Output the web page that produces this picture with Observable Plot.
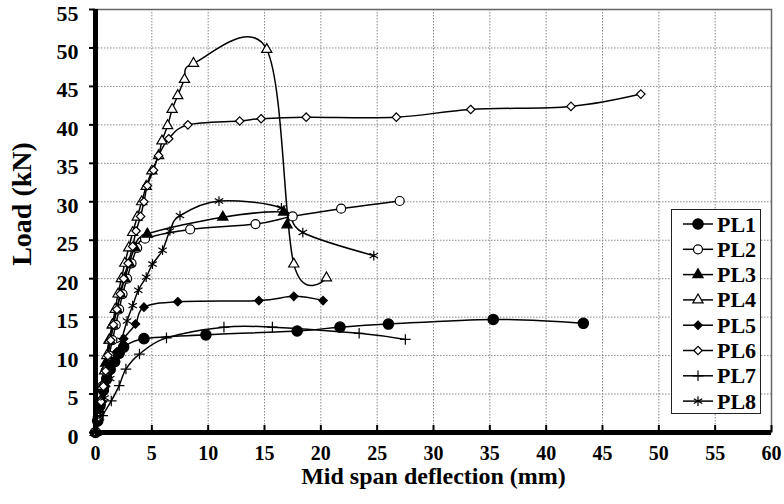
<!DOCTYPE html>
<html><head><meta charset="utf-8">
<script src="https://cdn.jsdelivr.net/npm/d3@7"></script>
<script src="https://cdn.jsdelivr.net/npm/@observablehq/plot@0.6"></script>
<style>
body{margin:0;background:#fff;}
#wrap{position:relative;width:784px;height:504px;overflow:hidden;}
#legend{position:absolute;left:671px;top:209px;width:90px;height:205px;border:1.5px solid #222;background:#fff;box-sizing:border-box;}
</style></head><body><div id="wrap"><div id="legend"></div></div>
<script>
const seriesNames = ["PL1","PL2","PL3","PL4","PL5","PL6","PL7","PL8"];
const xTicks = [0,5,10,15,20,25,30,35,40,45,50,55,60];
const yTicks = [0,5,10,15,20,25,30,35,40,45,50,55];
const xLabel = "Mid span deflection (mm)";
const yLabel = "Load (kN)";

const pl1 = [[0,0],[0.2,1.5],[0.4,3.5],[0.7,5.5],[1.0,7.0],[1.3,8.2],[1.7,9.2],[2.1,10.3],[2.5,11.1],[4.3,12.2],[9.8,12.7],[17.9,13.2],[21.7,13.7],[26.0,14.1],[35.3,14.7],[43.3,14.2]];
const pl2 = [[0,0],[0.2,2],[0.4,4],[0.6,6],[0.9,8],[1.2,10],[1.5,12],[1.8,14],[2.1,16],[2.4,18],[2.8,20],[3.2,22],[3.7,24],[4.4,25.2],[8.4,26.4],[14.2,27.1],[17.5,28.1],[21.8,29.1],[27.0,30.1]];
const pl3 = [[0,0],[0.3,3],[0.6,6],[0.9,9],[1.2,12],[1.5,14],[1.9,16],[2.2,18],[2.6,20],[3.0,22],[3.5,24],[4.6,25.8],[11.3,28.0],[16.7,28.65],[17.0,27.0]];
const pl4 = [[0,0],[0.2,2],[0.4,4],[0.6,6],[0.8,8],[1.0,10],[1.25,12],[1.5,14],[1.75,16],[2.0,18],[2.3,20],[2.6,22],[2.95,24],[3.3,26],[3.7,28],[4.1,30],[4.5,32],[5.0,34],[5.6,36],[5.9,37.9],[6.4,39.9],[6.8,42],[7.3,43.8],[7.9,45.9],[8.7,48],[15.2,49.8],[17.6,21.9],[20.5,20.1]];
const pl5 = [[0,0],[0.3,2],[0.6,4],[0.9,6],[1.3,8.5],[1.9,10.5],[2.5,12.2],[3.55,14.1],[4.3,16.3],[7.3,17.0],[14.5,17.15],[17.6,17.7],[20.2,17.15]];
const pl6 = [[0,0],[0.3,2],[0.5,4],[0.7,6],[0.9,8],[1.1,10],[1.35,12],[1.6,14],[1.9,16],[2.2,18],[2.5,20],[2.9,22],[3.3,24.2],[3.6,26.2],[4.0,28.1],[4.3,30],[4.6,32.1],[5.15,34.1],[5.6,36],[6.5,38.2],[8.2,40],[12.8,40.5],[14.7,40.8],[18.7,41],[26.7,41],[33.3,42],[42.2,42.4],[48.4,44]];
const pl7 = [[0,0],[0.64,2.2],[1.4,4.1],[2.1,6.1],[2.7,8.25],[3.9,10.2],[6.3,12.3],[11.4,13.7],[15.7,13.7],[23.4,12.9],[27.5,12.1]];
const pl8 = [[0,0],[0.4,2],[0.8,4.5],[1.3,7],[1.8,9.5],[2.3,12],[2.8,14.5],[3.3,16.5],[3.8,18.5],[4.5,20.2],[5.06,21.9],[5.95,23.7],[6.6,26.2],[7.5,28.2],[10.96,30.1],[16.5,29.2],[18.4,26.0],[24.7,23.0]];

const seriesData = [pl1,pl2,pl3,pl4,pl5,pl6,pl7,pl8];
const symbols = ["circle","circle","triangle","triangle","diamond2","diamond2","plus","asterisk"];
const fills = ["black","white","black","white","black","white","none","none"];
const radii = [5.2,4.5,3.8,3.8,3.8,3.8,3.5,4.6];

const rows = seriesNames.flatMap((n,i)=>seriesData[i].map(([x,y])=>({series:n,x,y})));
const font = '"Liberation Serif", "Times New Roman", serif';

const chart = Plot.plot({
  width:784, height:504,
  marginLeft:95, marginRight:13, marginTop:9, marginBottom:72,
  x:{domain:[0,60]},
  y:{domain:[0,55]},
  style:{fontFamily:font, background:"white", color:"black"},
  marks:[
    Plot.gridX(xTicks,{stroke:"#888", strokeOpacity:1, strokeDasharray:"1.5,1.5"}),
    Plot.gridY(yTicks,{stroke:"#888", strokeOpacity:1, strokeDasharray:"1.5,1.5"}),
    Plot.frame({stroke:"#666", strokeWidth:1.5}),
    Plot.line(rows,{x:"x", y:"y", z:"series", curve:"cardinal", stroke:"black", strokeWidth:1.5}),
    ...seriesData.map((d,i)=>Plot.dot(d,{x:p=>p[0], y:p=>p[1], symbol:symbols[i], r:radii[i], fill:fills[i], stroke:"black", strokeWidth:1.2})),
    Plot.ruleX([0],{stroke:"black", strokeWidth:5}),
    Plot.ruleY([0],{stroke:"black", strokeWidth:5}),
    Plot.axisX({ticks:xTicks, tickSize:-7, strokeWidth:2, tickPadding:20, fontSize:20, fontWeight:"bold", label:null}),
    Plot.axisY({ticks:yTicks, tickSize:6, strokeWidth:2, tickFormat:()=>"", label:null}),
    Plot.axisY({ticks:yTicks, tickSize:0, tickPadding:17, dy:4, fontSize:22, fontWeight:"bold", label:null}),
    Plot.text([xLabel],{text:d=>d, frameAnchor:"bottom", dy:51, fontSize:24, fontWeight:"bold"}),
    Plot.text([yLabel],{text:d=>d, frameAnchor:"left", textAnchor:"middle", dx:-73, dy:-17, rotate:-90, fontSize:28, fontWeight:"bold"})
  ]
});
document.getElementById("wrap").prepend(chart);

// legend
const symMap = {circle:d3.symbolCircle, triangle:d3.symbolTriangle, diamond2:d3.symbolDiamond2, plus:d3.symbolPlus, asterisk:d3.symbolAsterisk};
const lg = d3.select("#legend").append("svg").attr("width",88).attr("height",203);
seriesNames.forEach((n,i)=>{
  const cy = 14 + i*25.3;
  const g = lg.append("g");
  g.append("line").attr("x1",11).attr("x2",41).attr("y1",cy).attr("y2",cy).attr("stroke","black").attr("stroke-width",1.5);
  g.append("path").attr("transform",`translate(26,${cy})`)
    .attr("d", d3.symbol(symMap[symbols[i]], Math.PI*radii[i]*radii[i])())
    .attr("fill", fills[i]).attr("stroke","black").attr("stroke-width",1.2);
  g.append("text").attr("x",45).attr("y",cy+7.5).text(n)
    .attr("font-family",font).attr("font-weight","bold").attr("font-size",22).attr("fill","black");
});
</script></body></html>
